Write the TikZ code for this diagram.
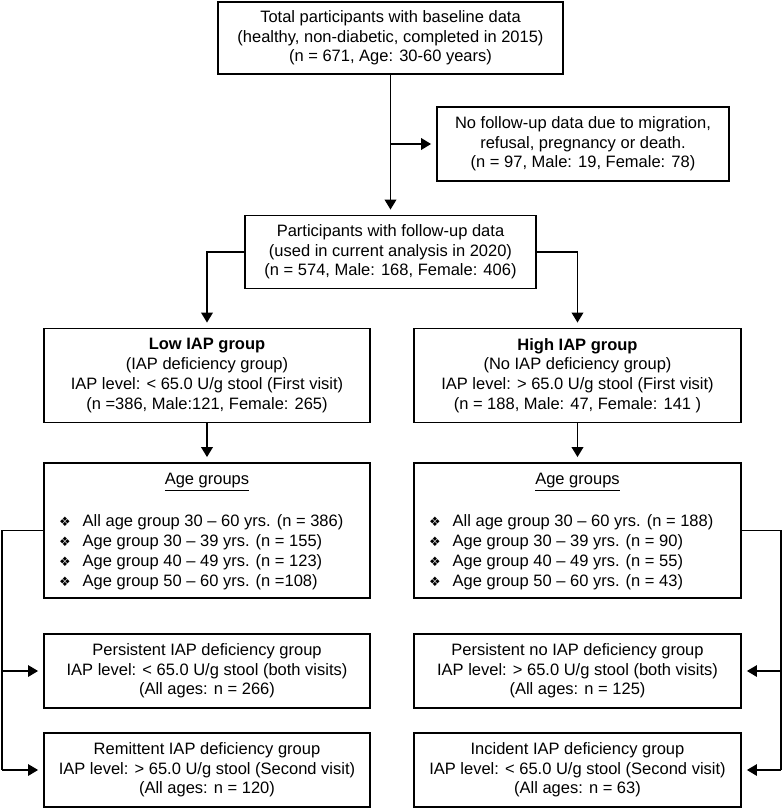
\documentclass[tikz,border=0pt]{standalone}
\usepackage{fontspec}
\setmainfont{Liberation Sans}
\newfontfamily\symfont{DejaVu Sans}
\usetikzlibrary{arrows.meta}
\newcommand{\diabullet}{\makebox[23.5pt][l]{\symfont\fontsize{13}{14}\selectfont ❖}}
\begin{document}
\begin{tikzpicture}[x=1pt,y=-1pt,
  box/.style={draw,line width=1.8pt,inner sep=0pt,align=center,font=\fontsize{16.5}{19.7}\selectfont},
  txt/.style={inner sep=0pt,font=\fontsize{16.5}{20}\selectfont},
  arr/.style={-{Triangle[length=10pt,width=11.5pt]},shorten >=5pt},
  conn/.style={line width=1.9pt,arr},
  brk/.style={line width=1.4pt},
]
\useasboundingbox (0,0) rectangle (783,808);
% boxes
\node[box,minimum width=345pt,minimum height=72pt] (top) at (390.5,38)
  {Total participants with baseline data\\(healthy, non-diabetic, completed in 2015)\\(n = 671, Age: 30-60 years)};
\node[box,minimum width=292pt,minimum height=74pt] (nofu) at (583,144)
  {No follow-up data due to migration,\\refusal, pregnancy or death.\\(n = 97, Male: 19, Female: 78)};
\node[box,minimum width=291pt,minimum height=73pt] (part) at (390.5,252)
  {Participants with follow-up data\\(used in current analysis in 2020)\\(n = 574, Male: 168, Female: 406)};
\node[box,minimum width=326pt,minimum height=94pt] (low) at (207,375.5)
  {\textbf{Low IAP group}\\(IAP deficiency group)\\IAP level: < 65.0 U/g stool (First visit)\\(n =386, Male:121, Female: 265)};
\node[box,minimum width=327pt,minimum height=94pt] (high) at (577.5,375.5)
  {\textbf{High IAP group}\\(No IAP deficiency group)\\IAP level: > 65.0 U/g stool (First visit)\\(n = 188, Male: 47, Female: 141 )};
\node[box,minimum width=326pt,minimum height=135pt] (agel) at (207,530.5) {};
\node[box,minimum width=327pt,minimum height=135pt] (ageh) at (577.5,530.5) {};
\node[txt] (agelt) at (207,482) {\underline{Age groups}};
\node[txt] (ageht) at (577.5,482) {\underline{Age groups}};
\node[txt,anchor=west,align=left] (agelb) at (59,552)
  {\diabullet All age group 30 – 60 yrs. (n = 386)\\
   \diabullet Age group 30 – 39 yrs. (n = 155)\\
   \diabullet Age group 40 – 49 yrs. (n = 123)\\
   \diabullet Age group 50 – 60 yrs. (n =108)};
\node[txt,anchor=west,align=left] (agehb) at (429,552)
  {\diabullet All age group 30 – 60 yrs. (n = 188)\\
   \diabullet Age group 30 – 39 yrs. (n = 90)\\
   \diabullet Age group 40 – 49 yrs. (n = 55)\\
   \diabullet Age group 50 – 60 yrs. (n = 43)};
\node[box,minimum width=326pt,minimum height=74pt] (pers) at (207,671)
  {Persistent IAP deficiency group\\IAP level: < 65.0 U/g stool (both visits)\\(All ages: n = 266)};
\node[box,minimum width=326pt,minimum height=74pt] (rem) at (207,770)
  {Remittent IAP deficiency group\\IAP level: > 65.0 U/g stool (Second visit)\\(All ages: n = 120)};
\node[box,minimum width=327pt,minimum height=74pt] (persno) at (577.5,671)
  {Persistent no IAP deficiency group\\IAP level: > 65.0 U/g stool (both visits)\\(All ages: n = 125)};
\node[box,minimum width=327pt,minimum height=74pt] (inc) at (577.5,770)
  {Incident IAP deficiency group\\IAP level: < 65.0 U/g stool (Second visit)\\(All ages: n = 63)};
% connectors
\draw[conn] (top.south) -- (part.north);
\draw[conn] (top.south |- nofu.west) -- (nofu.west);
\draw[conn] (part.west) -| (low.north);
\draw[conn] (part.east) -| (high.north);
\draw[conn] (low.south) -- (agel.north);
\draw[conn] (high.south) -- (ageh.north);
\coordinate (L) at (2,0);
\coordinate (R) at (781,0);
\draw[brk] (agel.west) -- (L |- agel.west) -- (L |- rem.west);
\draw[brk,arr] (L |- pers.west) -- (pers.west);
\draw[brk,arr] (L |- rem.west) -- (rem.west);
\draw[brk] (ageh.east) -- (R |- ageh.east) -- (R |- inc.east);
\draw[brk,arr] (R |- persno.east) -- (persno.east);
\draw[brk,arr] (R |- inc.east) -- (inc.east);
\end{tikzpicture}
\end{document}
